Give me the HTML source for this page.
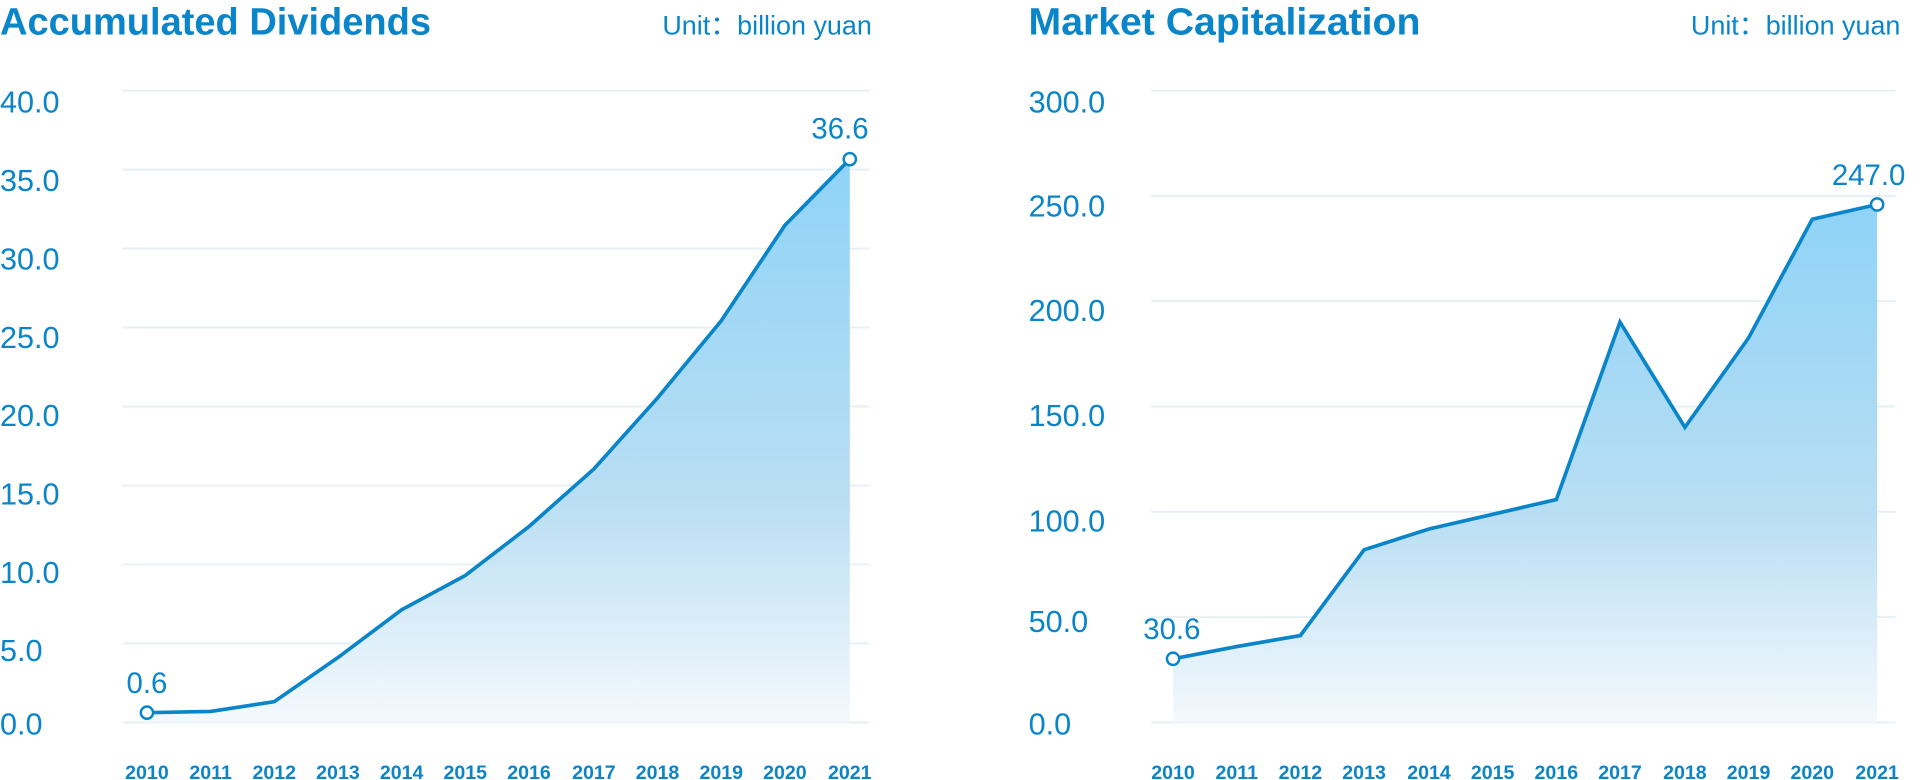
<!DOCTYPE html>
<html><head><meta charset="utf-8"><style>
html,body{margin:0;padding:0;background:#fff;}
svg{display:block;}
text{font-family:"Liberation Sans",sans-serif;fill:#0a85c9;}
</style></head><body>
<svg width="1920" height="780" viewBox="0 0 1568 637" preserveAspectRatio="none" xmlns="http://www.w3.org/2000/svg">
<defs>
<linearGradient id="g" x1="0" y1="0" x2="0" y2="1">
<stop offset="0" stop-color="#8fd3f7"/><stop offset="0.6" stop-color="#b9def3"/><stop offset="1" stop-color="#f4f9fd"/>
</linearGradient>
</defs>
<!-- Left chart -->
<text x="0" y="28" font-size="31" font-weight="600" textLength="352" lengthAdjust="spacingAndGlyphs">Accumulated Dividends</text>
<text x="712" y="28" font-size="22" text-anchor="end">Unit：billion yuan</text>
<g stroke="#e6eff6" stroke-width="1.5">
<line x1="100" x2="710" y1="74" y2="74"/><line x1="100" x2="710" y1="138.5" y2="138.5"/>
<line x1="100" x2="710" y1="203" y2="203"/><line x1="100" x2="710" y1="267.5" y2="267.5"/>
<line x1="100" x2="710" y1="332" y2="332"/><line x1="100" x2="710" y1="396.5" y2="396.5"/>
<line x1="100" x2="710" y1="461" y2="461"/><line x1="100" x2="710" y1="525.5" y2="525.5"/>
<line x1="100" x2="710" y1="590" y2="590"/>
</g>
<g font-size="25" font-weight="300">
<text x="0" y="92">40.0</text><text x="0" y="156">35.0</text><text x="0" y="220">30.0</text>
<text x="0" y="284">25.0</text><text x="0" y="348">20.0</text><text x="0" y="412">15.0</text>
<text x="0" y="476">10.0</text><text x="0" y="540">5.0</text><text x="0" y="600">0.0</text>
</g>
<path d="M120,582 L172,581 L224,573 L276,537 L328,498 L380,470 L432,430 L485,383 L537,325 L589,262 L641,184 L694,130 L694,590 L120,590Z" fill="url(#g)"/>
<polyline points="120,582 172,581 224,573 276,537 328,498 380,470 432,430 485,383 537,325 589,262 641,184 694,130" fill="none" stroke="#0a85c9" stroke-width="3"/>
<circle cx="120" cy="582" r="5" fill="#fff" stroke="#0a85c9" stroke-width="2"/>
<circle cx="694" cy="130" r="5" fill="#fff" stroke="#0a85c9" stroke-width="2"/>
<text x="120" y="566" font-size="24" text-anchor="middle">0.6</text>
<text x="686" y="113" font-size="24" text-anchor="middle">36.6</text>
<g font-size="16" font-weight="bold" text-anchor="middle">
<text x="120" y="636">2010</text><text x="172" y="636">2011</text><text x="224" y="636">2012</text>
<text x="276" y="636">2013</text><text x="328" y="636">2014</text><text x="380" y="636">2015</text>
<text x="432" y="636">2016</text><text x="485" y="636">2017</text><text x="537" y="636">2018</text>
<text x="589" y="636">2019</text><text x="641" y="636">2020</text><text x="694" y="636">2021</text>
</g>
<!-- Right chart -->
<text x="840" y="28" font-size="31" font-weight="600" textLength="320" lengthAdjust="spacingAndGlyphs">Market Capitalization</text>
<text x="1552" y="28" font-size="22" text-anchor="end">Unit：billion yuan</text>
<g stroke="#e6eff6" stroke-width="1.5">
<line x1="940" x2="1548" y1="74" y2="74"/><line x1="940" x2="1548" y1="160" y2="160"/>
<line x1="940" x2="1548" y1="246" y2="246"/><line x1="940" x2="1548" y1="332" y2="332"/>
<line x1="940" x2="1548" y1="418" y2="418"/><line x1="940" x2="1548" y1="504" y2="504"/>
<line x1="940" x2="1548" y1="590" y2="590"/>
</g>
<g font-size="25" font-weight="300">
<text x="840" y="92">300.0</text><text x="840" y="177">250.0</text><text x="840" y="262">200.0</text>
<text x="840" y="348">150.0</text><text x="840" y="434">100.0</text><text x="840" y="516">50.0</text>
<text x="840" y="600">0.0</text>
</g>
<path d="M958,538 L1010,528 L1062,519 L1114,449 L1167,432 L1219,420 L1271,408 L1323,263 L1376,349 L1428,276 L1480,179 L1533,167 L1533,590 L958,590Z" fill="url(#g)"/>
<polyline points="958,538 1010,528 1062,519 1114,449 1167,432 1219,420 1271,408 1323,263 1376,349 1428,276 1480,179 1533,167" fill="none" stroke="#0a85c9" stroke-width="3"/>
<circle cx="958" cy="538" r="5" fill="#fff" stroke="#0a85c9" stroke-width="2"/>
<circle cx="1533" cy="167" r="5" fill="#fff" stroke="#0a85c9" stroke-width="2"/>
<text x="957" y="522" font-size="24" text-anchor="middle">30.6</text>
<text x="1526" y="151" font-size="24" text-anchor="middle">247.0</text>
<g font-size="16" font-weight="bold" text-anchor="middle">
<text x="958" y="636">2010</text><text x="1010" y="636">2011</text><text x="1062" y="636">2012</text>
<text x="1114" y="636">2013</text><text x="1167" y="636">2014</text><text x="1219" y="636">2015</text>
<text x="1271" y="636">2016</text><text x="1323" y="636">2017</text><text x="1376" y="636">2018</text>
<text x="1428" y="636">2019</text><text x="1480" y="636">2020</text><text x="1533" y="636">2021</text>
</g>
</svg>
</body></html>
